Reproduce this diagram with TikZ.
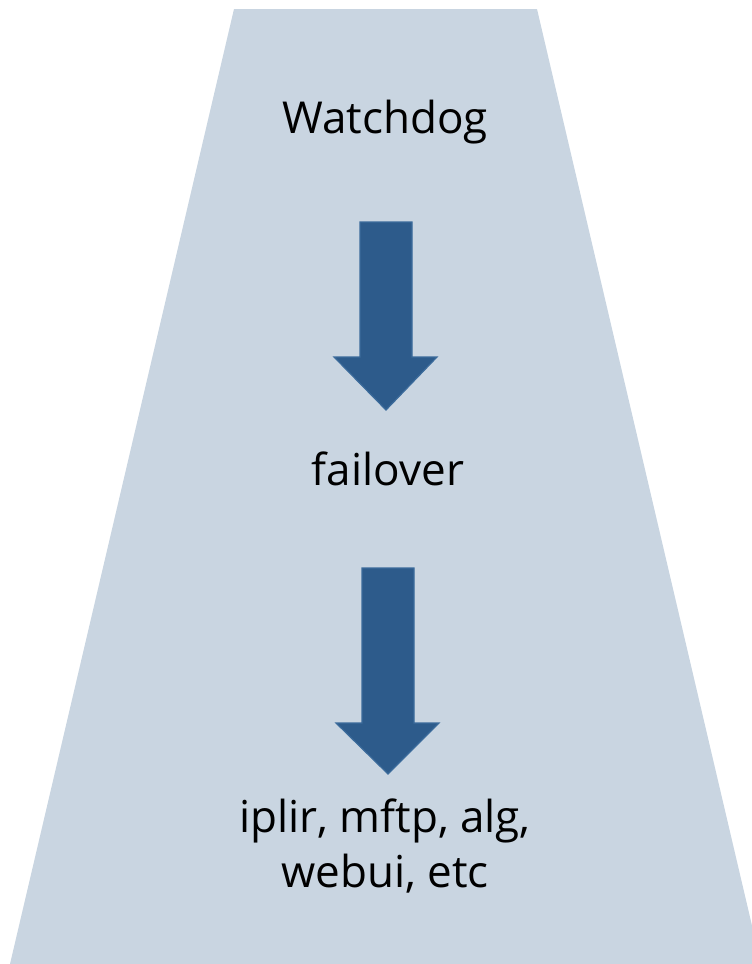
\documentclass[tikz,border=0pt]{standalone}
\usepackage{fontspec}
\setmainfont{Open Sans}
\definecolor{bgfill}{HTML}{C9D5E1}
\definecolor{arrfill}{HTML}{2D5B8B}
\definecolor{arrline}{HTML}{3B6B9B}
\tikzset{
  lbl/.style={font=\fontsize{44}{55}\selectfont, text=black, anchor=base, inner sep=0pt, align=center},
  blockarrow/.style={fill=arrfill, draw=arrline, line width=1.2pt, line join=miter}
}
\begin{document}
\begin{tikzpicture}[x=1pt,y=-1pt]
\useasboundingbox (0,0) rectangle (752,964);
\begin{scope}
\clip (0,0) rectangle (752,964);
\fill[bgfill] (234,9) -- (537,9) -- (761,964) -- (10,964) -- cycle;
\end{scope}
\node[lbl] (watchdog) at (385,133) {Watchdog};
\node[lbl] (failover) at (388,485) {failover};
\node[lbl] (services) at (385,832) {iplir, mftp, alg,};
\node[lbl] (services2) at (385,887) {webui, etc};
\draw[blockarrow] (360,222) -- (412,222) -- (412,357) -- (437,357) -- (386,410) -- (334,357) -- (360,357) -- cycle;
\draw[blockarrow] (362,568) -- (414,568) -- (414,723) -- (439,723) -- (388,774) -- (336,723) -- (362,723) -- cycle;
\end{tikzpicture}
\end{document}
